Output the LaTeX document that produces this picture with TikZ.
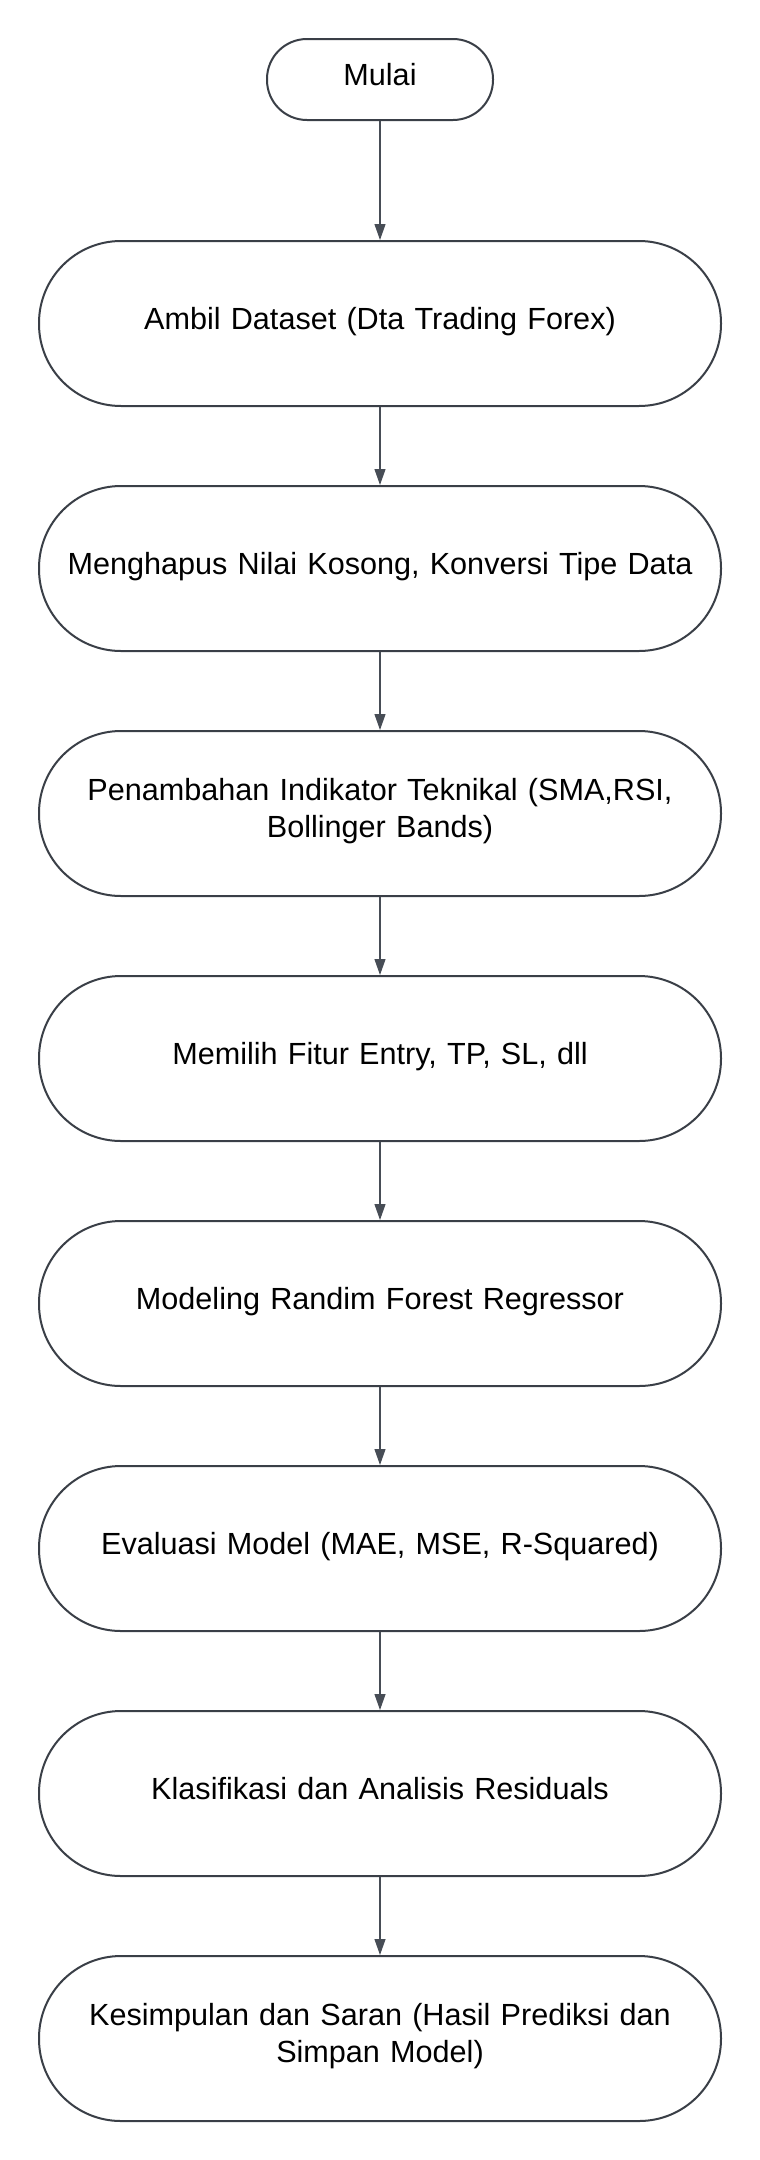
\documentclass[tikz,border=0pt]{standalone}
\usepackage{fontspec}
\setmainfont{Liberation Sans}
\usepackage{tikz}
\usetikzlibrary{arrows.meta, positioning}
\definecolor{garis}{HTML}{3A3F47}
\definecolor{panah}{HTML}{474D56}

\begin{document}
\begin{tikzpicture}[x=1pt, y=1pt,
    terminal/.style={draw=garis, line width=2pt, fill=white, rounded corners=40pt,
      minimum width=226pt, minimum height=81pt, text depth=11pt,
      font=\fontsize{30.6}{37.5}\selectfont},
    proses/.style={draw=garis, line width=2pt, fill=white, rounded corners=82pt,
      minimum width=682pt, minimum height=165pt, text width=650pt, align=center,
      text depth=11pt, font=\fontsize{30.6}{37.5}\selectfont},
    dua baris/.style={text depth=48.5pt},
    alur/.style={draw=panah, line width=1.2pt, -{Triangle[length=16pt, width=11pt]}}]
  \useasboundingbox (0,0) rectangle (760,-2160);

  \node [terminal] (mulai) at (380,-79.5) {Mulai};
  \node [proses, below=119pt of mulai] (dataset) {Ambil Dataset (Dta Trading Forex)};
  \node [proses, below=78pt of dataset] (bersih) {Menghapus Nilai Kosong, Konversi Tipe Data};
  \node [proses, dua baris, below=78pt of bersih] (indikator) {Penambahan Indikator Teknikal (SMA,RSI,\\ Bollinger Bands)};
  \node [proses, below=78pt of indikator] (fitur) {Memilih Fitur Entry, TP, SL, dll};
  \node [proses, below=78pt of fitur] (model) {Modeling Randim Forest Regressor};
  \node [proses, below=78pt of model] (evaluasi) {Evaluasi Model (MAE, MSE, R-Squared)};
  \node [proses, below=78pt of evaluasi] (residual) {Klasifikasi dan Analisis Residuals};
  \node [proses, dua baris, below=78pt of residual] (simpul) {Kesimpulan dan Saran (Hasil Prediksi dan\\ Simpan Model)};

  %ALUR
  \draw [alur] (mulai) -- (dataset);
  \draw [alur] (dataset) -- (bersih);
  \draw [alur] (bersih) -- (indikator);
  \draw [alur] (indikator) -- (fitur);
  \draw [alur] (fitur) -- (model);
  \draw [alur] (model) -- (evaluasi);
  \draw [alur] (evaluasi) -- (residual);
  \draw [alur] (residual) -- (simpul);
\end{tikzpicture}
\end{document}
